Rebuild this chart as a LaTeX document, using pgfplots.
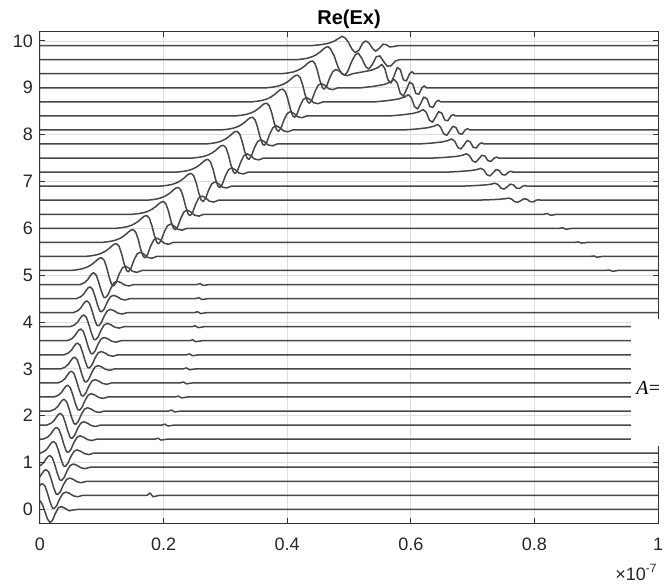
\documentclass[border=0pt]{standalone}
\usepackage{pgfplots}
\pgfplotsset{compat=1.18}
\usepackage{fontspec}
\setmainfont{Liberation Sans}
\newfontfamily\serif{Liberation Serif}
\pgfplotsset{tr/.style={black!72, line width=0.75pt, line join=round, mark=none}}
\begin{document}
\begin{tikzpicture}
\useasboundingbox (-20pt,-30.5pt) rectangle (312pt,261.5pt);
\begin{axis}[
  at={(0,0)}, anchor=south west,
  scale only axis, width=309pt, height=245.5pt,
  xmin=0, xmax=1, ymin=-0.29, ymax=10.19,
  xtick={0,0.2,0.4,0.6,0.8,1},
  ytick={0,1,2,3,4,5,6,7,8,9,10},
  tick align=inside, major tick length=2.5pt,
  grid=major, grid style={black!13, line width=0.4pt},
  axis line style={black!80, line width=0.5pt},
  every tick/.style={black!80, line width=0.5pt},
  tick label style={font=\fontsize{9}{10}\selectfont, text=black!85},
  xticklabel style={yshift=-4pt},
  /pgf/number format/assume math mode=true,
  title={Re(Ex)},
  title style={font=\bfseries\fontsize{10}{12}\selectfont, at={(0.5,1)}, anchor=base, yshift=-2.5pt, inner sep=0pt},
]
% k=0
\addplot[tr] coordinates {(0,0.19)(0.004,0.10)(0.008,-0.05)(0.012,-0.20)(0.016,-0.28)(0.020,-0.24)(0.025,-0.08)(0.030,0.04)(0.035,0.06)(0.041,0.02)(0.047,-0.03)(0.054,-0.01)(0.062,0)(1,0)};
% k=1
\addplot[tr] coordinates {(-0.006,0.40)(-0.002,0.48)(0.001,0.53)(0.004,0.55)(0.008,0.50)(0.012,0.35)(0.016,0.17)(0.020,0.03)(0.023,0.02)(0.027,0.08)(0.032,0.23)(0.037,0.34)(0.042,0.37)(0.048,0.34)(0.054,0.29)(0.061,0.27)(0.069,0.30)(0.173,0.30)(0.178,0.35)(0.183,0.27)(0.188,0.285)(0.193,0.30)(1,0.30)};
% k=2
\addplot[tr] coordinates {(-0.005,0.64)(0.000,0.70)(0.004,0.78)(0.007,0.83)(0.010,0.85)(0.014,0.80)(0.018,0.65)(0.022,0.47)(0.026,0.33)(0.029,0.32)(0.033,0.38)(0.038,0.53)(0.043,0.64)(0.048,0.67)(0.054,0.64)(0.060,0.59)(0.067,0.57)(0.075,0.60)(1,0.60)};
% k=3
\addplot[tr] coordinates {(-0.006,0.90)(0.001,0.94)(0.006,1.00)(0.010,1.08)(0.013,1.13)(0.016,1.15)(0.020,1.10)(0.024,0.95)(0.028,0.77)(0.032,0.63)(0.035,0.62)(0.039,0.68)(0.044,0.83)(0.049,0.94)(0.054,0.97)(0.060,0.94)(0.066,0.89)(0.073,0.87)(0.081,0.90)(1,0.90)};
% k=4
\addplot[tr] coordinates {(0,1.20)(0.007,1.24)(0.012,1.30)(0.016,1.38)(0.019,1.43)(0.022,1.45)(0.026,1.40)(0.030,1.25)(0.034,1.07)(0.038,0.93)(0.041,0.92)(0.045,0.98)(0.050,1.13)(0.055,1.24)(0.060,1.27)(0.066,1.24)(0.072,1.19)(0.079,1.17)(0.087,1.20)(1,1.20)};
% k=5
\addplot[tr] coordinates {(0,1.5)(0.005,1.50)(0.012,1.54)(0.017,1.60)(0.021,1.68)(0.024,1.73)(0.027,1.75)(0.031,1.70)(0.035,1.55)(0.039,1.37)(0.043,1.23)(0.046,1.22)(0.050,1.28)(0.055,1.43)(0.060,1.54)(0.065,1.57)(0.071,1.54)(0.077,1.49)(0.084,1.47)(0.092,1.50)(0.186,1.5)(0.191,1.52)(0.196,1.48)(0.201,1.49)(0.206,1.5)(1,1.5)};
% k=6
\addplot[tr] coordinates {(0,1.8)(0.011,1.80)(0.018,1.84)(0.023,1.90)(0.027,1.98)(0.030,2.03)(0.033,2.05)(0.037,2.00)(0.041,1.85)(0.045,1.67)(0.049,1.53)(0.052,1.52)(0.056,1.58)(0.061,1.73)(0.066,1.84)(0.071,1.87)(0.077,1.84)(0.083,1.79)(0.090,1.77)(0.098,1.80)(0.197,1.8)(0.202,1.82)(0.207,1.78)(0.212,1.79)(0.217,1.8)(1,1.8)};
% k=7
\addplot[tr] coordinates {(0,2.1)(0.017,2.10)(0.024,2.14)(0.029,2.20)(0.033,2.28)(0.036,2.33)(0.039,2.35)(0.043,2.30)(0.047,2.15)(0.051,1.97)(0.055,1.83)(0.058,1.82)(0.062,1.88)(0.067,2.03)(0.072,2.14)(0.077,2.17)(0.083,2.14)(0.089,2.09)(0.096,2.07)(0.104,2.10)(0.208,2.1)(0.213,2.12)(0.218,2.08)(0.223,2.09)(0.228,2.1)(1,2.1)};
% k=8
\addplot[tr] coordinates {(0,2.4)(0.023,2.40)(0.030,2.44)(0.035,2.50)(0.039,2.58)(0.042,2.63)(0.045,2.65)(0.049,2.60)(0.053,2.45)(0.057,2.27)(0.061,2.13)(0.064,2.12)(0.068,2.18)(0.073,2.33)(0.078,2.44)(0.083,2.47)(0.089,2.44)(0.095,2.39)(0.102,2.37)(0.110,2.40)(0.219,2.4)(0.224,2.42)(0.229,2.38)(0.234,2.39)(0.239,2.4)(1,2.4)};
% k=9
\addplot[tr] coordinates {(0,2.7)(0.029,2.70)(0.036,2.74)(0.041,2.80)(0.045,2.88)(0.048,2.93)(0.051,2.95)(0.055,2.90)(0.059,2.75)(0.063,2.57)(0.067,2.43)(0.070,2.42)(0.074,2.48)(0.079,2.63)(0.084,2.74)(0.089,2.77)(0.095,2.74)(0.101,2.69)(0.108,2.67)(0.116,2.70)(0.227,2.7)(0.232,2.72)(0.237,2.68)(0.242,2.69)(0.247,2.7)(1,2.7)};
% k=10
\addplot[tr] coordinates {(0,3.0)(0.034,3.00)(0.041,3.04)(0.046,3.10)(0.050,3.18)(0.053,3.23)(0.056,3.25)(0.060,3.20)(0.064,3.05)(0.068,2.87)(0.072,2.73)(0.075,2.72)(0.079,2.78)(0.084,2.93)(0.089,3.04)(0.094,3.07)(0.100,3.04)(0.106,2.99)(0.113,2.97)(0.121,3.00)(0.232,3.0)(0.237,3.02)(0.242,2.98)(0.247,2.99)(0.252,3.0)(1,3.0)};
% k=11
\addplot[tr] coordinates {(0,3.3)(0.039,3.30)(0.046,3.34)(0.051,3.40)(0.055,3.48)(0.058,3.53)(0.061,3.55)(0.065,3.50)(0.069,3.35)(0.073,3.17)(0.077,3.03)(0.080,3.02)(0.084,3.08)(0.089,3.23)(0.094,3.34)(0.099,3.37)(0.105,3.34)(0.111,3.29)(0.118,3.27)(0.126,3.30)(0.237,3.3)(0.242,3.32)(0.247,3.28)(0.252,3.29)(0.257,3.3)(1,3.3)};
% k=12
\addplot[tr] coordinates {(0,3.6)(0.044,3.60)(0.051,3.64)(0.056,3.70)(0.060,3.78)(0.063,3.83)(0.066,3.85)(0.070,3.80)(0.074,3.65)(0.078,3.47)(0.082,3.33)(0.085,3.32)(0.089,3.38)(0.094,3.53)(0.099,3.64)(0.104,3.67)(0.110,3.64)(0.116,3.59)(0.123,3.57)(0.131,3.60)(0.242,3.6)(0.247,3.62)(0.252,3.58)(0.257,3.59)(0.262,3.6)(1,3.6)};
% k=13
\addplot[tr] coordinates {(0,3.9)(0.049,3.90)(0.056,3.94)(0.061,4.00)(0.065,4.08)(0.068,4.13)(0.071,4.15)(0.075,4.10)(0.079,3.95)(0.083,3.77)(0.087,3.63)(0.090,3.62)(0.094,3.68)(0.099,3.83)(0.104,3.94)(0.109,3.97)(0.115,3.94)(0.121,3.89)(0.128,3.87)(0.136,3.90)(0.246,3.9)(0.251,3.92)(0.256,3.88)(0.261,3.89)(0.266,3.9)(1,3.9)};
% k=14
\addplot[tr] coordinates {(0,4.2)(0.054,4.20)(0.061,4.24)(0.066,4.30)(0.070,4.38)(0.073,4.43)(0.076,4.45)(0.080,4.40)(0.084,4.25)(0.088,4.07)(0.092,3.93)(0.095,3.92)(0.099,3.98)(0.104,4.13)(0.109,4.24)(0.114,4.27)(0.120,4.24)(0.126,4.19)(0.133,4.17)(0.141,4.20)(0.250,4.2)(0.255,4.22)(0.260,4.18)(0.265,4.19)(0.270,4.2)(1,4.2)};
% k=15
\addplot[tr] coordinates {(0,4.5)(0.059,4.50)(0.066,4.54)(0.071,4.60)(0.075,4.68)(0.078,4.73)(0.081,4.75)(0.085,4.70)(0.089,4.55)(0.093,4.37)(0.097,4.23)(0.100,4.22)(0.104,4.28)(0.109,4.43)(0.114,4.54)(0.119,4.57)(0.125,4.54)(0.131,4.49)(0.138,4.47)(0.146,4.50)(0.252,4.5)(0.257,4.52)(0.262,4.48)(0.267,4.49)(0.272,4.5)(1,4.5)};
% k=16
\addplot[tr] coordinates {(0,4.8)(0.065,4.80)(0.072,4.84)(0.077,4.90)(0.081,4.98)(0.084,5.03)(0.087,5.05)(0.091,5.00)(0.095,4.85)(0.099,4.67)(0.103,4.53)(0.106,4.52)(0.110,4.58)(0.115,4.73)(0.120,4.84)(0.125,4.87)(0.131,4.84)(0.137,4.79)(0.144,4.77)(0.152,4.80)(0.254,4.8)(0.259,4.82)(0.264,4.78)(0.269,4.79)(0.274,4.8)(1,4.8)};
% k=17
\addplot[tr] coordinates {(0,5.1)(0.050,5.100)(0.060,5.115)(0.068,5.135)(0.075,5.165)(0.081,5.205)(0.087,5.260)(0.092,5.320)(0.096,5.360)(0.100,5.370)(0.104,5.315)(0.108,5.160)(0.112,4.950)(0.116,4.800)(0.119,4.770)(0.123,4.840)(0.128,5.020)(0.133,5.150)(0.138,5.190)(0.144,5.150)(0.150,5.080)(0.157,5.060)(0.165,5.100)(0.915,5.1)(0.921,5.11)(0.926,5.085)(0.931,5.09)(0.935,5.1)(1,5.1)};
% k=18
\addplot[tr] coordinates {(0,5.4)(0.074,5.400)(0.084,5.415)(0.092,5.435)(0.099,5.465)(0.105,5.505)(0.111,5.560)(0.116,5.620)(0.120,5.660)(0.124,5.670)(0.128,5.615)(0.132,5.460)(0.136,5.250)(0.140,5.100)(0.143,5.070)(0.147,5.140)(0.152,5.320)(0.157,5.450)(0.162,5.490)(0.168,5.450)(0.174,5.380)(0.181,5.360)(0.189,5.400)(0.890,5.4)(0.896,5.41)(0.901,5.385)(0.906,5.39)(0.910,5.4)(1,5.4)};
% k=19
\addplot[tr] coordinates {(0,5.7)(0.101,5.700)(0.111,5.715)(0.119,5.735)(0.126,5.765)(0.132,5.805)(0.138,5.860)(0.143,5.920)(0.147,5.960)(0.151,5.970)(0.155,5.915)(0.159,5.760)(0.163,5.550)(0.167,5.400)(0.170,5.370)(0.174,5.440)(0.179,5.620)(0.184,5.750)(0.189,5.790)(0.195,5.750)(0.201,5.680)(0.208,5.660)(0.216,5.700)(0.865,5.7)(0.871,5.71)(0.876,5.685)(0.881,5.69)(0.885,5.7)(1,5.7)};
% k=20
\addplot[tr] coordinates {(0,6.0)(0.123,6.000)(0.133,6.015)(0.141,6.035)(0.148,6.065)(0.154,6.105)(0.160,6.160)(0.165,6.220)(0.169,6.260)(0.173,6.270)(0.177,6.215)(0.181,6.060)(0.185,5.850)(0.189,5.700)(0.192,5.670)(0.196,5.740)(0.201,5.920)(0.206,6.050)(0.211,6.090)(0.217,6.050)(0.223,5.980)(0.230,5.960)(0.238,6.000)(0.840,6.0)(0.846,6.012)(0.851,5.98)(0.856,5.988)(0.860,6.0)(1,6.0)};
% k=21
\addplot[tr] coordinates {(0,6.3)(0.150,6.300)(0.160,6.315)(0.168,6.335)(0.175,6.365)(0.181,6.405)(0.187,6.460)(0.192,6.520)(0.196,6.560)(0.200,6.570)(0.204,6.515)(0.208,6.360)(0.212,6.150)(0.216,6.000)(0.219,5.970)(0.223,6.040)(0.228,6.220)(0.233,6.350)(0.238,6.390)(0.244,6.350)(0.250,6.280)(0.257,6.260)(0.265,6.300)(0.815,6.3)(0.821,6.315)(0.826,6.28)(0.831,6.285)(0.835,6.3)(1,6.3)};
% k=22
\addplot[tr] coordinates {(0,6.6)(0.174,6.600)(0.184,6.615)(0.192,6.635)(0.199,6.665)(0.205,6.705)(0.211,6.760)(0.216,6.820)(0.220,6.860)(0.224,6.870)(0.228,6.815)(0.232,6.660)(0.236,6.450)(0.240,6.300)(0.243,6.270)(0.247,6.340)(0.252,6.520)(0.257,6.650)(0.262,6.690)(0.268,6.650)(0.274,6.580)(0.281,6.560)(0.289,6.600)(0.705,6.600)(0.725,6.608)(0.742,6.618)(0.752,6.630)(0.758,6.645)(0.763,6.625)(0.768,6.570)(0.773,6.555)(0.778,6.590)(0.783,6.630)(0.788,6.620)(0.793,6.570)(0.798,6.565)(0.803,6.600)(0.807,6.610)(0.810,6.600)(1,6.6)};
% k=23
\addplot[tr] coordinates {(0,6.9)(0.195,6.900)(0.205,6.915)(0.213,6.935)(0.220,6.965)(0.226,7.005)(0.232,7.060)(0.237,7.120)(0.241,7.160)(0.245,7.170)(0.249,7.115)(0.253,6.960)(0.257,6.750)(0.261,6.600)(0.264,6.570)(0.268,6.640)(0.273,6.820)(0.278,6.950)(0.283,6.990)(0.289,6.950)(0.295,6.880)(0.302,6.860)(0.310,6.900)(0.683,6.900)(0.703,6.911)(0.720,6.925)(0.730,6.942)(0.736,6.963)(0.741,6.935)(0.746,6.858)(0.751,6.837)(0.756,6.886)(0.761,6.942)(0.766,6.928)(0.771,6.858)(0.776,6.851)(0.781,6.900)(0.785,6.914)(0.788,6.900)(1,6.9)};
% k=24
\addplot[tr] coordinates {(0,7.2)(0.222,7.200)(0.232,7.215)(0.240,7.235)(0.247,7.265)(0.253,7.305)(0.259,7.360)(0.264,7.420)(0.268,7.460)(0.272,7.470)(0.276,7.415)(0.280,7.260)(0.284,7.050)(0.288,6.900)(0.291,6.870)(0.295,6.940)(0.300,7.120)(0.305,7.250)(0.310,7.290)(0.316,7.250)(0.322,7.180)(0.329,7.160)(0.337,7.200)(0.660,7.200)(0.680,7.214)(0.697,7.232)(0.707,7.254)(0.713,7.281)(0.718,7.245)(0.723,7.146)(0.728,7.119)(0.733,7.182)(0.738,7.254)(0.743,7.236)(0.748,7.146)(0.753,7.137)(0.758,7.200)(0.762,7.218)(0.765,7.200)(1,7.2)};
% k=25
\addplot[tr] coordinates {(0,7.5)(0.247,7.500)(0.257,7.515)(0.265,7.535)(0.272,7.565)(0.278,7.605)(0.284,7.660)(0.289,7.720)(0.293,7.760)(0.297,7.770)(0.301,7.715)(0.305,7.560)(0.309,7.350)(0.313,7.200)(0.316,7.170)(0.320,7.240)(0.325,7.420)(0.330,7.550)(0.335,7.590)(0.341,7.550)(0.347,7.480)(0.354,7.460)(0.362,7.500)(0.637,7.500)(0.657,7.515)(0.674,7.535)(0.684,7.560)(0.690,7.590)(0.695,7.550)(0.700,7.440)(0.705,7.410)(0.710,7.480)(0.715,7.560)(0.720,7.540)(0.725,7.440)(0.730,7.430)(0.735,7.500)(0.739,7.520)(0.742,7.500)(1,7.5)};
% k=26
\addplot[tr] coordinates {(0,7.8)(0.269,7.800)(0.279,7.815)(0.287,7.835)(0.294,7.865)(0.300,7.905)(0.306,7.960)(0.311,8.020)(0.315,8.060)(0.319,8.070)(0.323,8.015)(0.327,7.860)(0.331,7.650)(0.335,7.500)(0.338,7.470)(0.342,7.540)(0.347,7.720)(0.352,7.850)(0.357,7.890)(0.363,7.850)(0.369,7.780)(0.376,7.760)(0.384,7.800)(0.613,7.800)(0.633,7.818)(0.650,7.842)(0.660,7.872)(0.666,7.908)(0.671,7.860)(0.676,7.728)(0.681,7.692)(0.686,7.776)(0.691,7.872)(0.696,7.848)(0.701,7.728)(0.706,7.716)(0.711,7.800)(0.715,7.824)(0.718,7.800)(1,7.8)};
% k=27
\addplot[tr] coordinates {(0,8.1)(0.294,8.100)(0.304,8.115)(0.312,8.135)(0.319,8.165)(0.325,8.205)(0.331,8.260)(0.336,8.320)(0.340,8.360)(0.344,8.370)(0.348,8.315)(0.352,8.160)(0.356,7.950)(0.360,7.800)(0.363,7.770)(0.367,7.840)(0.372,8.020)(0.377,8.150)(0.382,8.190)(0.388,8.150)(0.394,8.080)(0.401,8.060)(0.409,8.100)(0.590,8.100)(0.610,8.120)(0.627,8.146)(0.637,8.178)(0.643,8.217)(0.648,8.165)(0.653,8.022)(0.658,7.983)(0.663,8.074)(0.668,8.178)(0.673,8.152)(0.678,8.022)(0.683,8.009)(0.688,8.100)(0.692,8.126)(0.695,8.100)(1,8.1)};
% k=28
\addplot[tr] coordinates {(0,8.4)(0.317,8.400)(0.327,8.415)(0.335,8.435)(0.342,8.465)(0.348,8.505)(0.354,8.560)(0.359,8.620)(0.363,8.660)(0.367,8.670)(0.371,8.615)(0.375,8.460)(0.379,8.250)(0.383,8.100)(0.386,8.070)(0.390,8.140)(0.395,8.320)(0.400,8.450)(0.405,8.490)(0.411,8.450)(0.417,8.380)(0.424,8.360)(0.432,8.400)(0.567,8.400)(0.587,8.423)(0.604,8.453)(0.614,8.490)(0.620,8.535)(0.625,8.475)(0.630,8.310)(0.635,8.265)(0.640,8.370)(0.645,8.490)(0.650,8.460)(0.655,8.310)(0.660,8.295)(0.665,8.400)(0.669,8.430)(0.672,8.400)(1,8.4)};
% k=29
\addplot[tr] coordinates {(0,8.7)(0.343,8.700)(0.353,8.715)(0.361,8.735)(0.368,8.765)(0.374,8.805)(0.380,8.860)(0.385,8.920)(0.389,8.960)(0.393,8.970)(0.397,8.915)(0.401,8.760)(0.405,8.550)(0.409,8.400)(0.412,8.370)(0.416,8.440)(0.421,8.620)(0.426,8.750)(0.431,8.790)(0.437,8.750)(0.443,8.680)(0.450,8.660)(0.458,8.700)(0.543,8.700)(0.563,8.726)(0.580,8.760)(0.590,8.802)(0.596,8.853)(0.601,8.785)(0.606,8.598)(0.611,8.547)(0.616,8.666)(0.621,8.802)(0.626,8.768)(0.631,8.598)(0.636,8.581)(0.641,8.700)(0.645,8.734)(0.648,8.700)(1,8.7)};
% k=30
\addplot[tr] coordinates {(0,9.0)(0.367,9.000)(0.377,9.015)(0.385,9.035)(0.392,9.065)(0.398,9.105)(0.404,9.160)(0.409,9.220)(0.413,9.260)(0.417,9.270)(0.421,9.215)(0.425,9.060)(0.429,8.850)(0.433,8.700)(0.436,8.670)(0.440,8.740)(0.445,8.920)(0.450,9.050)(0.455,9.090)(0.461,9.050)(0.467,8.980)(0.474,8.960)(0.482,9.000)(0.520,9.00)(0.540,9.03)(0.557,9.07)(0.567,9.12)(0.573,9.18)(0.578,9.10)(0.583,8.88)(0.588,8.82)(0.593,8.96)(0.598,9.12)(0.603,9.08)(0.608,8.88)(0.613,8.86)(0.618,9.00)(0.622,9.04)(0.625,9.00)(1,9.0)};
% k=31
\addplot[tr] coordinates {(0,9.3)(0.391,9.300)(0.401,9.315)(0.409,9.335)(0.416,9.365)(0.422,9.405)(0.428,9.460)(0.433,9.520)(0.437,9.560)(0.441,9.570)(0.445,9.515)(0.449,9.360)(0.453,9.150)(0.457,9.000)(0.460,8.970)(0.464,9.040)(0.469,9.220)(0.474,9.350)(0.479,9.390)(0.485,9.350)(0.491,9.280)(0.498,9.260)(0.506,9.300)(0.520,9.333)(0.537,9.377)(0.547,9.432)(0.553,9.498)(0.558,9.410)(0.563,9.168)(0.568,9.102)(0.573,9.256)(0.578,9.432)(0.583,9.388)(0.588,9.168)(0.593,9.146)(0.598,9.300)(0.602,9.344)(0.605,9.300)(1,9.3)};
% k=32
\addplot[tr] coordinates {(0,9.6)(0.416,9.60)(0.426,9.615)(0.434,9.635)(0.441,9.665)(0.447,9.705)(0.453,9.76)(0.458,9.82)(0.462,9.86)(0.466,9.88)(0.470,9.83)(0.476,9.68)(0.482,9.45)(0.488,9.30)(0.493,9.27)(0.498,9.35)(0.504,9.55)(0.510,9.70)(0.515,9.74)(0.521,9.62)(0.527,9.45)(0.532,9.40)(0.538,9.50)(0.544,9.66)(0.550,9.68)(0.556,9.56)(0.562,9.46)(0.568,9.47)(0.575,9.57)(0.582,9.60)(0.590,9.60)(1,9.6)};
% k=33
\addplot[tr] coordinates {(0,9.9)(0.440,9.90)(0.455,9.92)(0.467,9.95)(0.477,10.00)(0.484,10.06)(0.489,10.10)(0.494,10.06)(0.499,9.97)(0.505,9.82)(0.510,9.75)(0.516,9.80)(0.522,9.95)(0.527,10.00)(0.532,9.96)(0.538,9.84)(0.543,9.78)(0.549,9.84)(0.555,9.93)(0.560,9.92)(0.566,9.87)(0.572,9.88)(0.580,9.90)(1,9.9)};
\coordinate (bsw) at (axis cs:0.957,1.36);
\coordinate (bne) at (axis cs:1,4.07);
\coordinate (atext) at (axis cs:0.9645,2.59);
\end{axis}
\fill[white] (bsw) rectangle ([xshift=8pt]bne);
\node[anchor=west, inner sep=0pt, font=\serif\fontsize{10}{11}\selectfont] at (atext) {\textit{A}=};
\node[anchor=north east, inner sep=0pt, font=\fontsize{9}{10}\selectfont, text=black!85] at (309pt,-20.5pt) {×10\textsuperscript{-7}};
\end{tikzpicture}
\end{document}
